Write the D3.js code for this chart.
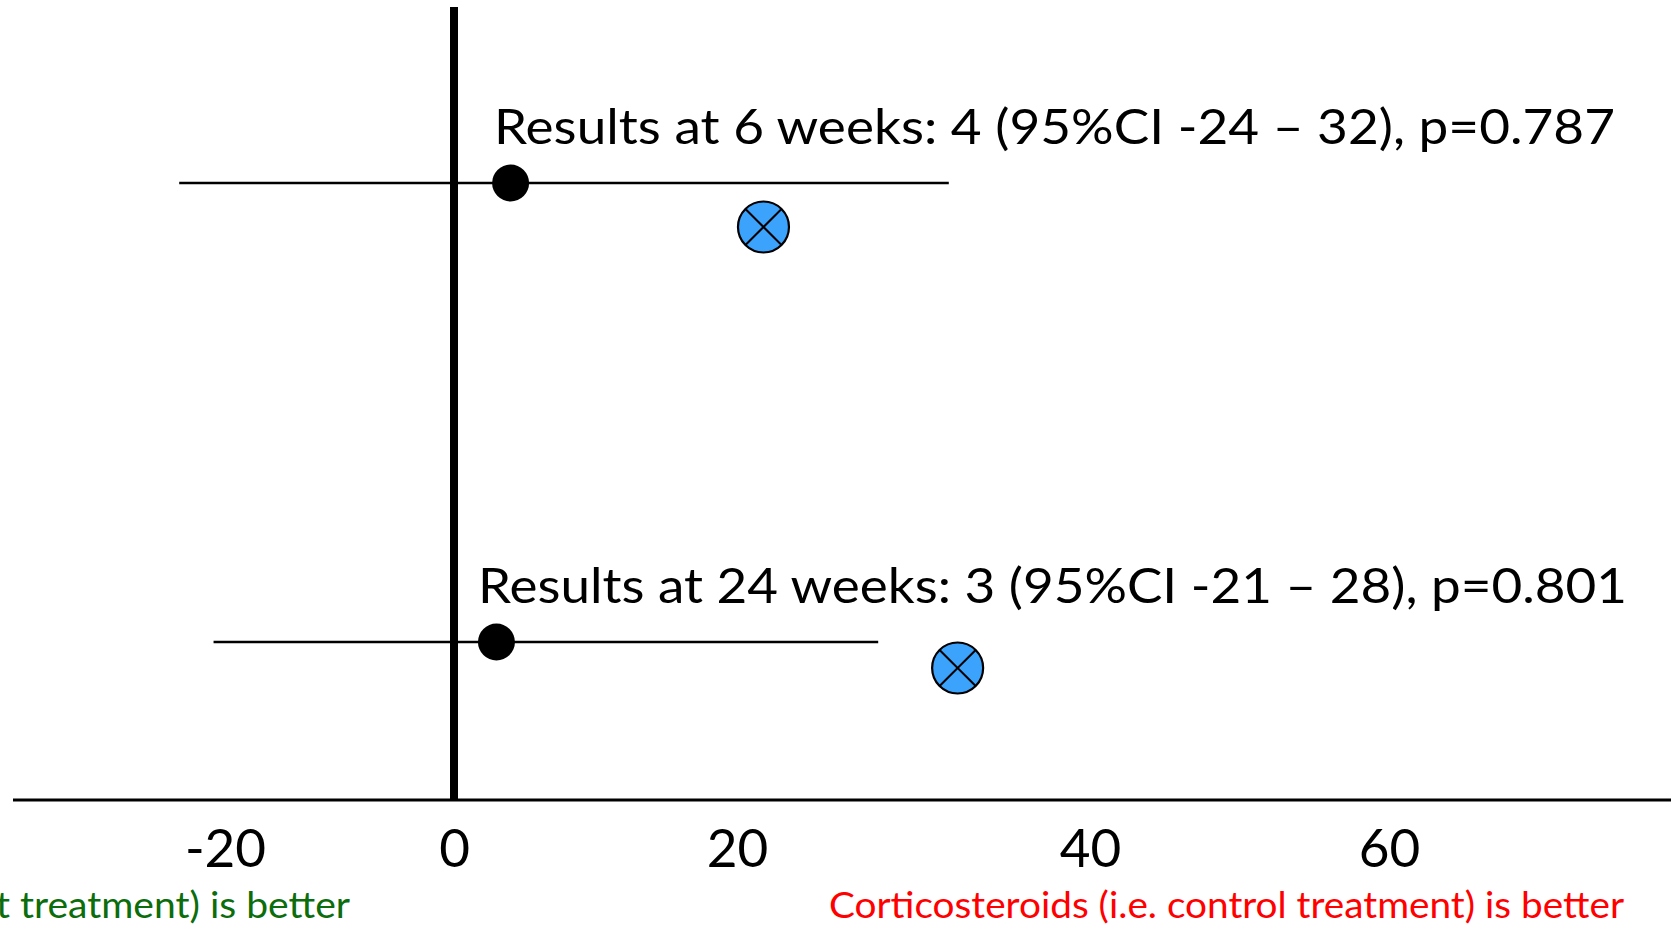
<!DOCTYPE html>
<html>
<head>
<meta charset="utf-8">
<script src="https://cdn.jsdelivr.net/npm/d3@7"></script>
<style>
  html, body { margin: 0; padding: 0; background: #ffffff; overflow: hidden; }
  svg { display: block; }
  text { font-family: Lato, "Open Sans", sans-serif; }
</style>
</head>
<body>
<svg id="chart" width="1674" height="930"></svg>
<script>
// Follow-up time points
const timepoints = ["6 weeks", "24 weeks"];
// Between-group difference with its 95% confidence interval
const estimate = [4, 3];
const ciLower = [-24, -21];
const ciUpper = [32, 28];
const pValues = ["0.787", "0.801"];
// Crossed-circle marker for each time point
const crossedMarker = [21.5, 32.5];
// Horizontal axis
const tickValues = [-20, 0, 20, 40, 60];
const tickLabels = ["-20", "0", "20", "40", "60"];
// Direction labels under the axis
const favoursLeft = "t treatment) is better";
const favoursRight = "Corticosteroids (i.e. control treatment) is better";

// ---- layout ----
const W = 1674, H = 930;
const tickPx = [225, 454, 737, 1090, 1389];   // axis drawn with uneven tick spacing
const axisY = 800;
const axisX0 = 13, axisX1 = 1671;
const zeroTop = 7;
const labelX = [494, 478];
const labelWidth = [1121, 1149];
const labelRise = 39.5;

const x = d3.scaleLinear().domain(tickValues).range(tickPx);
const y = d3.scalePoint().domain(timepoints).range([183, 642]);
const yMarker = d3.scalePoint().domain(timepoints).range([227, 668]);

const svg = d3.select("#chart");

const rows = timepoints.map((tp, i) => ({
  tp, est: estimate[i], lo: ciLower[i], hi: ciUpper[i], p: pValues[i],
  marker: crossedMarker[i], lx: labelX[i], lw: labelWidth[i]
}));

// stretch text to a target width while keeping its height
function fitWidth(sel, width) {
  sel.attr("textLength", width).attr("lengthAdjust", "spacingAndGlyphs");
}

// axis baseline
svg.append("line")
  .attr("x1", axisX0).attr("x2", axisX1)
  .attr("y1", axisY).attr("y2", axisY)
  .attr("stroke", "#000").attr("stroke-width", 3);

// confidence interval lines
svg.selectAll("line.ci").data(rows).join("line")
  .attr("class", "ci")
  .attr("x1", d => x(d.lo)).attr("x2", d => x(d.hi))
  .attr("y1", d => y(d.tp)).attr("y2", d => y(d.tp))
  .attr("stroke", "#000").attr("stroke-width", 2.5);

// line of no difference
svg.append("line")
  .attr("x1", x(0)).attr("x2", x(0))
  .attr("y1", zeroTop).attr("y2", axisY)
  .attr("stroke", "#000").attr("stroke-width", 8);

// point estimates
svg.selectAll("circle.est").data(rows).join("circle")
  .attr("class", "est")
  .attr("cx", d => x(d.est)).attr("cy", d => y(d.tp))
  .attr("r", 18.5).attr("fill", "#000");

// crossed circles
const R = 25.5, k = R * Math.SQRT1_2;
const cm = svg.selectAll("g.crossed").data(rows).join("g")
  .attr("class", "crossed")
  .attr("transform", d => `translate(${x(d.marker)},${yMarker(d.tp)})`);
cm.append("circle").attr("r", R)
  .attr("fill", "#3ca3fd").attr("stroke", "#000").attr("stroke-width", 2.2);
cm.append("line").attr("x1", -k).attr("y1", -k).attr("x2", k).attr("y2", k)
  .attr("stroke", "#000").attr("stroke-width", 2);
cm.append("line").attr("x1", -k).attr("y1", k).attr("x2", k).attr("y2", -k)
  .attr("stroke", "#000").attr("stroke-width", 2);

// result annotations
svg.selectAll("text.result").data(rows).join("text")
  .attr("class", "result")
  .attr("x", d => d.lx).attr("y", d => y(d.tp) - labelRise)
  .attr("font-size", 49).attr("fill", "#000")
  .text(d => `Results at ${d.tp}: ${d.est} (95%CI ${d.lo} \u2013 ${d.hi}), p=${d.p}`)
  .each(function(d) { fitWidth(d3.select(this), d.lw); });

// tick labels
const axis = d3.axisBottom(x)
  .tickValues(tickValues)
  .tickFormat((d, i) => tickLabels[i])
  .tickSize(0);
const gAxis = svg.append("g").attr("transform", `translate(0,${axisY})`).call(axis);
gAxis.select(".domain").remove();
gAxis.selectAll("text")
  .attr("y", 67).attr("dy", 0)
  .attr("font-size", 53).attr("font-family", "Lato, 'Open Sans', sans-serif")
  .attr("fill", "#000");

// direction labels
svg.append("text")
  .attr("x", -4).attr("y", 918)
  .attr("font-size", 36).attr("fill", "#0b6d0b")
  .text(favoursLeft)
  .call(fitWidth, 354);

svg.append("text")
  .attr("x", 829).attr("y", 918)
  .attr("font-size", 36).attr("fill", "#ff0000")
  .text(favoursRight)
  .call(fitWidth, 795);
</script>
</body>
</html>
